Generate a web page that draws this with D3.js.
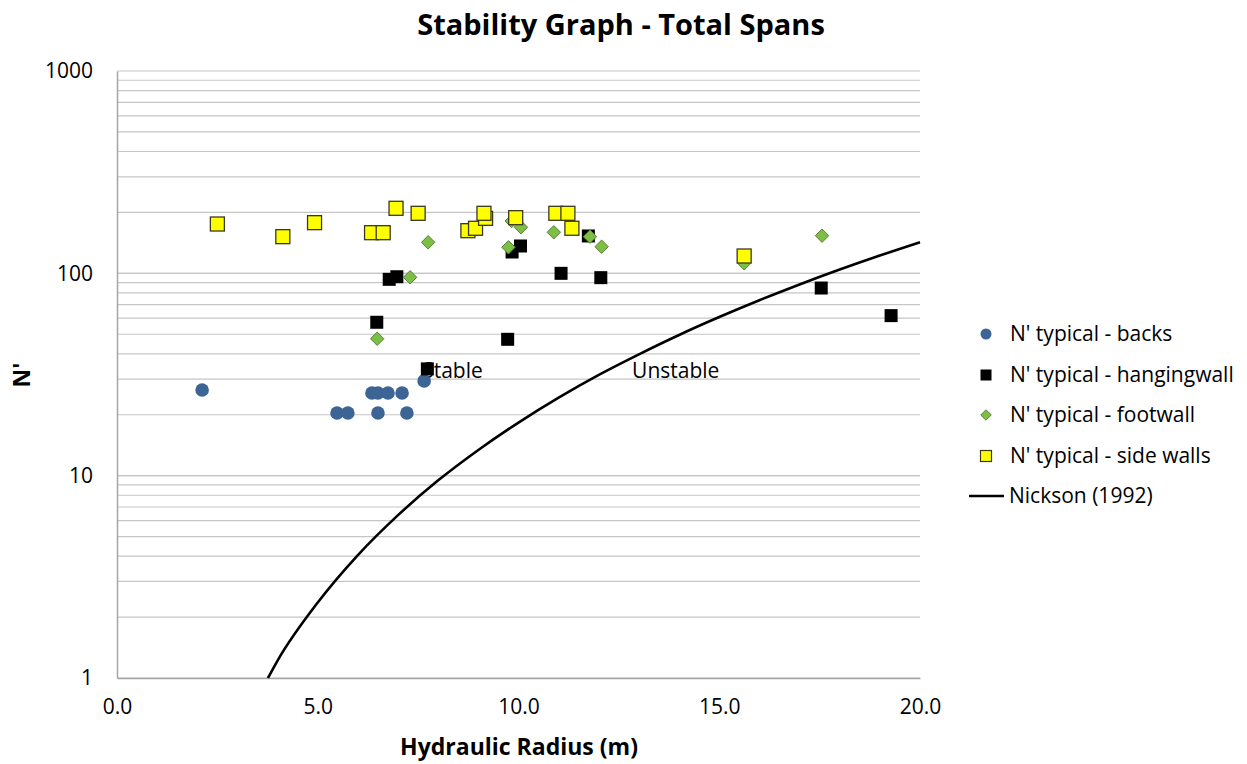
<!DOCTYPE html>
<meta charset="utf-8">
<script src="https://d3js.org/d3.v7.min.js"></script>
<style>
  body { margin: 0; background: #fff; }
  text { font-family: "Open Sans", sans-serif; fill: #000; }
</style>
<body>
<div id="chart"></div>
<script>
// data (x = hydraulic radius, y = N')
var backsX = [2.12, 5.48, 5.75, 6.35, 6.50, 6.50, 6.75, 7.10, 7.22, 7.65];
var backsY = [26.5, 20.4, 20.4, 25.6, 25.6, 20.4, 25.6, 25.6, 20.4, 29.4];

var hangX = [6.47, 6.78, 6.97, 7.73, 9.73, 9.84, 10.05, 11.06, 11.74, 12.05, 17.54, 19.28];
var hangY = [57.3, 93.4, 96.2, 33.7, 47.2, 127.5, 136.5, 100, 153, 95.2, 84.6, 61.8];

var footX = [6.48, 7.30, 7.75, 9.75, 9.83, 10.06, 10.88, 11.78, 12.07, 15.62, 17.56];
var footY = [47.5, 95.6, 142.3, 134.5, 181.4, 169, 159.6, 151.8, 135.4, 112.1, 153.5];

var sideX = [2.50, 4.13, 4.92, 6.34, 6.63, 6.95, 7.50, 8.74, 8.93, 9.18, 9.14, 9.93, 10.93, 11.23, 11.33, 15.62];
var sideY = [175.3, 151.8, 178, 158.8, 158.8, 209.6, 198, 162.5, 167, 187, 198, 188.4, 198, 198, 167, 121.8];

// Nickson (1992) boundary
var nickX = [3.76, 4, 5, 6, 7, 8, 9, 10, 11, 12, 13, 14, 15, 16, 17, 18, 19, 20];
var nickY = [1.0, 1.22, 2.36, 4.05, 6.38, 9.48, 13.4, 18.3, 24.3, 31.5, 39.8, 49.6, 60.8, 73.6, 88.1, 104.4, 122.5, 142.5];

var xTicks = [0, 5, 10, 15, 20];
var yTicks = [1, 10, 100, 1000];

var legendNames = ["N' typical - backs", "N' typical - hangingwall", "N' typical - footwall", "N' typical - side walls", "Nickson (1992)"];

var margin = {top: 71, left: 117},
    width = 803,
    height = 607;

var svg = d3.select("#chart").append("svg")
    .attr("width", 1247)
    .attr("height", 764);

var g = svg.append("g")
    .attr("transform", "translate(" + margin.left + "," + margin.top + ")");

var x = d3.scaleLinear().domain([0, 20]).range([0, width]);
var y = d3.scaleLog().domain([1, 1000]).range([height, 0]);

// gridlines (major + minor)
var grid = [];
for (var d = 1; d < 1000; d *= 10) {
  for (var k = 1; k <= 10; k++) grid.push(d * k);
}
g.append("g").selectAll("line")
  .data(grid)
  .join("line")
    .attr("x1", 0).attr("x2", width)
    .attr("y1", function(v) { return y(v); })
    .attr("y2", function(v) { return y(v); })
    .attr("stroke", "#c6c6c6")
    .attr("stroke-width", 1.2);

// axes
var xAxis = g.append("g")
  .attr("transform", "translate(0," + height + ")")
  .call(d3.axisBottom(x).tickValues(xTicks).tickFormat(d3.format(".1f")).tickSize(0).tickPadding(21));
var yAxis = g.append("g")
  .call(d3.axisLeft(y).tickValues(yTicks).tickFormat(d3.format("d")).tickSize(0).tickPadding(24));
[xAxis, yAxis].forEach(function(a) {
  a.attr("font-size", 21).attr("font-family", "Open Sans, sans-serif");
  a.select(".domain").attr("stroke", "#a6a6a6").attr("stroke-width", 1.5);
  a.selectAll("text").attr("fill", "#000");
});

// region labels
g.append("text").attr("x", x(7.6)).attr("y", y(32.9)).attr("dy", "0.35em").style("font-size", "21px").text("Stable");
g.append("text").attr("x", x(12.83)).attr("y", y(32.9)).attr("dy", "0.35em").style("font-size", "21px").text("Unstable");

// Nickson curve
var nick = nickX.map(function(v, i) { return [v, nickY[i]]; });
g.append("path")
  .datum(nick)
  .attr("fill", "none")
  .attr("stroke", "#000")
  .attr("stroke-width", 2.6)
  .attr("d", d3.line().curve(d3.curveMonotoneX)
    .x(function(d) { return x(d[0]); })
    .y(function(d) { return y(d[1]); }));

function pts(xs, ys) { return xs.map(function(v, i) { return [v, ys[i]]; }); }

// backs
g.append("g").selectAll("circle")
  .data(pts(backsX, backsY))
  .join("circle")
    .attr("cx", function(d) { return x(d[0]); })
    .attr("cy", function(d) { return y(d[1]); })
    .attr("r", 6.8)
    .attr("fill", "#3c6494");

// hangingwall
g.append("g").selectAll("rect")
  .data(pts(hangX, hangY))
  .join("rect")
    .attr("x", function(d) { return x(d[0]) - 6.5; })
    .attr("y", function(d) { return y(d[1]) - 6.5; })
    .attr("width", 13).attr("height", 13)
    .attr("fill", "#000");

// footwall
var diamond = d3.symbol().type(d3.symbolDiamond2).size(115);
g.append("g").selectAll("path")
  .data(pts(footX, footY))
  .join("path")
    .attr("transform", function(d) { return "translate(" + x(d[0]) + "," + y(d[1]) + ")"; })
    .attr("d", diamond)
    .attr("fill", "#7dbf45")
    .attr("stroke", "#5b7f3a")
    .attr("stroke-width", 1);

// side walls
g.append("g").selectAll("rect")
  .data(pts(sideX, sideY))
  .join("rect")
    .attr("x", function(d) { return x(d[0]) - 7; })
    .attr("y", function(d) { return y(d[1]) - 7; })
    .attr("width", 14).attr("height", 14)
    .attr("fill", "#ffff00")
    .attr("stroke", "#3a3a1a")
    .attr("stroke-width", 1.3);

// title and axis titles
svg.append("text")
  .attr("x", 621).attr("y", 35)
  .attr("text-anchor", "middle")
  .style("font-size", "29px").style("font-weight", "bold")
  .text("Stability Graph - Total Spans");

svg.append("text")
  .attr("x", 519).attr("y", 755)
  .attr("text-anchor", "middle")
  .style("font-size", "23px").style("font-weight", "bold")
  .text("Hydraulic Radius (m)");

svg.append("text")
  .attr("transform", "translate(30,375) rotate(-90)")
  .attr("text-anchor", "middle")
  .style("font-size", "23px").style("font-weight", "bold")
  .text("N'");

// legend
var leg = svg.append("g");
var rowY = [334, 375, 415, 456, 496];
legendNames.forEach(function(name, i) {
  var cy = rowY[i];
  if (i === 0) leg.append("circle").attr("cx", 986).attr("cy", cy).attr("r", 5.5).attr("fill", "#3c6494");
  if (i === 1) leg.append("rect").attr("x", 980.5).attr("y", cy - 5.5).attr("width", 11).attr("height", 11).attr("fill", "#000");
  if (i === 2) leg.append("path").attr("transform", "translate(986," + cy + ")")
      .attr("d", d3.symbol().type(d3.symbolDiamond2).size(70))
      .attr("fill", "#7dbf45").attr("stroke", "#5b7f3a");
  if (i === 3) leg.append("rect").attr("x", 980.5).attr("y", cy - 5.5).attr("width", 11).attr("height", 11)
      .attr("fill", "#ffff00").attr("stroke", "#3a3a1a").attr("stroke-width", 1.2);
  if (i === 4) leg.append("line").attr("x1", 969).attr("x2", 1004).attr("y1", cy).attr("y2", cy)
      .attr("stroke", "#000").attr("stroke-width", 2.4);
  leg.append("text")
    .attr("x", i === 4 ? 1009 : 1010).attr("y", cy)
    .attr("dy", "0.35em")
    .style("font-size", "21px")
    .text(name);
});
</script>
</body>
